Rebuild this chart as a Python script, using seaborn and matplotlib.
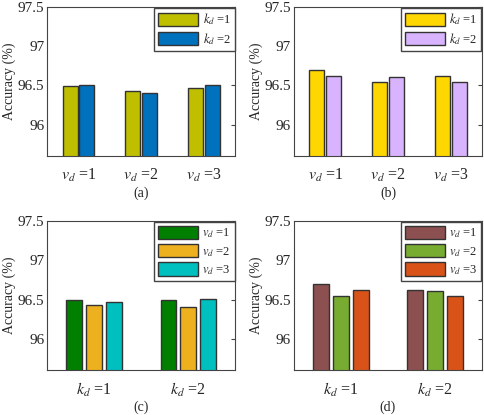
import numpy as np
import pandas as pd
import matplotlib
matplotlib.use("Agg")
import matplotlib.pyplot as plt
import seaborn as sns

sns.set_style("white")
plt.rcParams['font.family'] = ['Liberation Serif', 'DejaVu Serif']
plt.rcParams['mathtext.fontset'] = 'stix'

# data
v_labels = ["$v_d$ =1", "$v_d$ =2", "$v_d$ =3"]
k_labels = ["$k_d$ =1", "$k_d$ =2"]

# accuracy, rows: k_d = 1, 2 ; columns: v_d = 1, 2, 3
acc_left = [[96.49, 96.43, 96.47],
            [96.50, 96.40, 96.51]]
acc_right = [[96.70, 96.55, 96.62],
             [96.62, 96.61, 96.54]]

colors_a = ["#BFBF00", "#0072BD"]
colors_b = ["#FFD700", "#D8B4FE"]
colors_c = ["#007F00", "#EDB120", "#00BFBF"]
colors_d = ["#8C5050", "#77AC30", "#D95319"]


def make_df(acc):
    rows = []
    for i, k in enumerate(k_labels):
        for j, v in enumerate(v_labels):
            rows.append({"k": k, "v": v, "acc": acc[i][j]})
    return pd.DataFrame(rows)


df_left = make_df(acc_left)
df_right = make_df(acc_right)

fig = plt.figure(figsize=(4.85, 4.15), dpi=100)
pos = {
    "a": [0.097, 0.624, 0.388, 0.359],
    "b": [0.606, 0.624, 0.388, 0.359],
    "c": [0.097, 0.108, 0.388, 0.359],
    "d": [0.606, 0.108, 0.388, 0.359],
}

panels = [
    ("a", df_left, "v", "k", v_labels, k_labels, colors_a, 0.53, 0.1),
    ("b", df_right, "v", "k", v_labels, k_labels, colors_b, 0.53, 0.1),
    ("c", df_left, "k", "v", k_labels, v_labels, colors_c, 0.63, 0.2),
    ("d", df_right, "k", "v", k_labels, v_labels, colors_d, 0.63, 0.2),
]

for name, df, xcol, hcol, order, hue_order, cols, w, g in panels:
    ax = fig.add_axes(pos[name])
    sns.barplot(data=df, x=xcol, y="acc", hue=hcol, order=order,
                hue_order=hue_order, palette=cols, width=w, gap=g,
                saturation=1, edgecolor="#333333", linewidth=1.0, ax=ax)
    ax.set_ylim(95.6, 97.5)
    ax.set_xlim(-0.5, len(order) - 0.5)
    ax.set_yticks([96, 96.5, 97, 97.5])
    ax.set_yticklabels(["96", "96.5", "97", "97.5"])
    ax.set_xlabel("")
    ax.set_ylabel("Accuracy (%)", fontsize=10, labelpad=1)
    ax.tick_params(axis="both", direction="in", labelsize=11, length=3,
                   top=True, right=True, color="#444444", pad=2)
    ax.tick_params(axis="x", length=0, pad=8, labelsize=11.5)
    for s in ax.spines.values():
        s.set_color("#444444")
        s.set_linewidth(0.8)
    ax.legend(loc="upper right", fontsize=9, handlelength=3.2,
              handleheight=1.25, fancybox=False, framealpha=1,
              edgecolor="#444444", borderaxespad=0.05, borderpad=0.3,
              labelspacing=0.3, handletextpad=0.35)
    x0, y0, w0, h0 = pos[name]
    fig.text(x0 + w0 / 2, y0 - 0.09, f"({name})", ha="center",
             va="center", fontsize=10)

fig.savefig("out.png", dpi=100)
